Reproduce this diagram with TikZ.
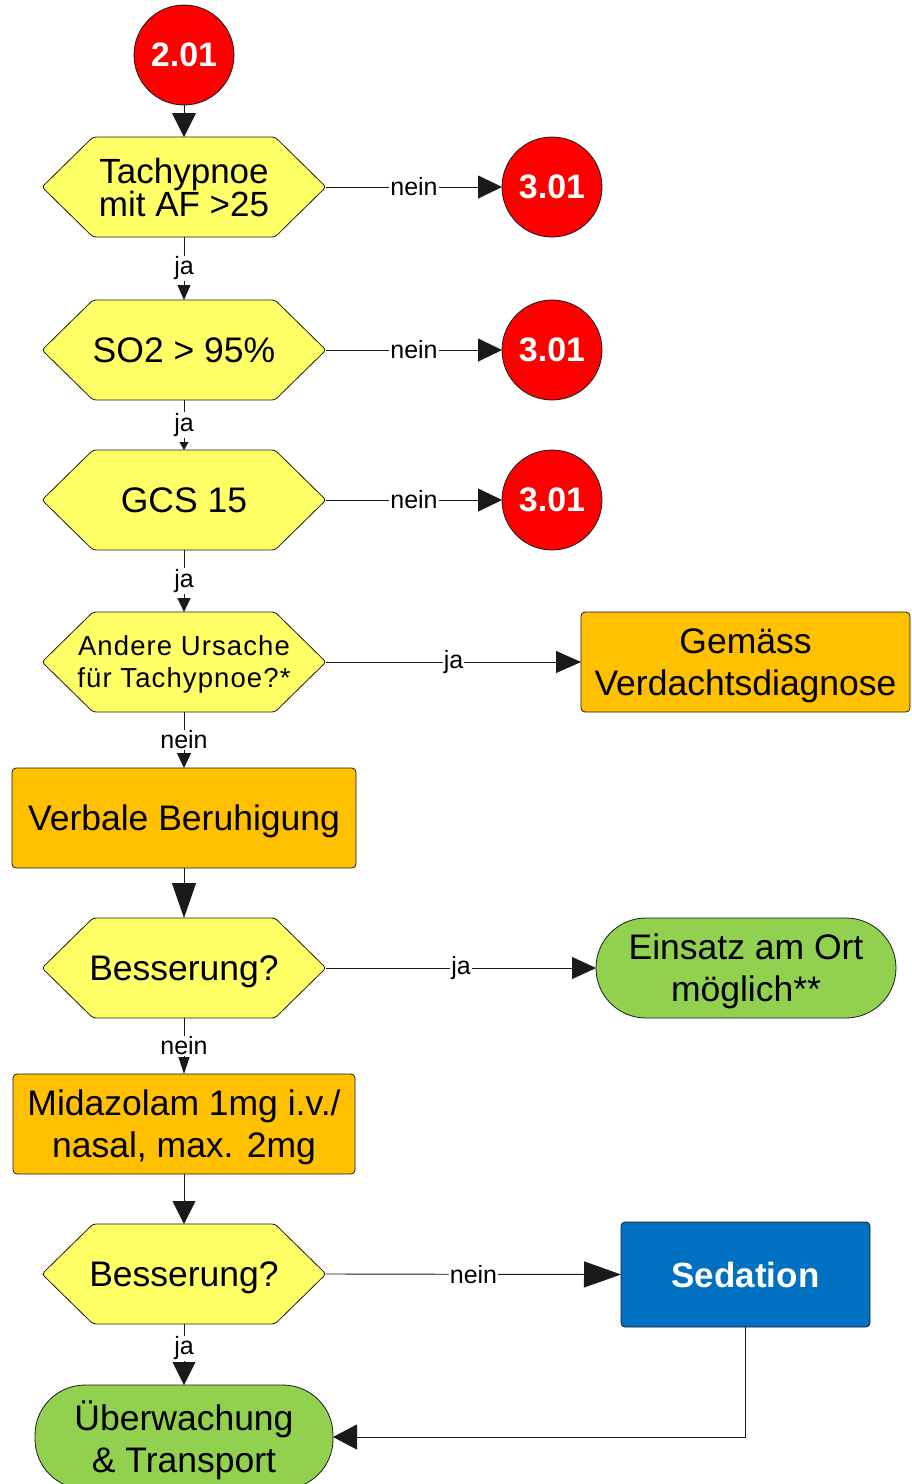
\documentclass[tikz,border=0pt]{standalone}
\usepackage{fontspec}
\setmainfont{Liberation Sans}
\usetikzlibrary{arrows.meta}

\definecolor{hexyellow}{HTML}{FFFF66}
\definecolor{boxorange}{HTML}{FFC000}
\definecolor{endgreen}{HTML}{92D050}
\definecolor{sedblue}{HTML}{0070C0}
\definecolor{exitred}{HTML}{FF0000}
\definecolor{edge}{HTML}{1A1A1A}

% Decision shape: a flat hexagon with pointed left and right ends,
% using the rectangle's anchors so that east/west are the tips.
\makeatletter
\newdimen\hexinset \hexinset=51pt
\pgfdeclareshape{hexbox}{
  \inheritsavedanchors[from=rectangle]
  \inheritanchorborder[from=rectangle]
  \inheritanchor[from=rectangle]{center}
  \inheritanchor[from=rectangle]{north}
  \inheritanchor[from=rectangle]{south}
  \inheritanchor[from=rectangle]{east}
  \inheritanchor[from=rectangle]{west}
  \inheritanchor[from=rectangle]{base}
  \inheritanchor[from=rectangle]{mid}
  \backgroundpath{%
    \southwest \edef\hx@l{\the\pgf@x}\edef\hx@b{\the\pgf@y}%
    \northeast \edef\hx@r{\the\pgf@x}\edef\hx@t{\the\pgf@y}%
    \pgf@xa=\hx@l\relax \advance\pgf@xa by \hexinset \edef\hx@li{\the\pgf@xa}%
    \pgf@xa=\hx@r\relax \advance\pgf@xa by -\hexinset \edef\hx@ri{\the\pgf@xa}%
    \pgf@xa=\hx@l\relax \advance\pgf@xa by \hx@r\relax \divide\pgf@xa by 2 \edef\hx@c{\the\pgf@xa}%
    \pgf@ya=\hx@b\relax \advance\pgf@ya by \hx@t\relax \divide\pgf@ya by 2 \edef\hx@m{\the\pgf@ya}%
    \pgfpathmoveto{\pgfqpoint{\hx@c}{\hx@t}}%
    \pgfpathlineto{\pgfqpoint{\hx@ri}{\hx@t}}%
    \pgfpathlineto{\pgfqpoint{\hx@r}{\hx@m}}%
    \pgfpathlineto{\pgfqpoint{\hx@ri}{\hx@b}}%
    \pgfpathlineto{\pgfqpoint{\hx@li}{\hx@b}}%
    \pgfpathlineto{\pgfqpoint{\hx@l}{\hx@m}}%
    \pgfpathlineto{\pgfqpoint{\hx@li}{\hx@t}}%
    \pgfpathclose
  }
}
\makeatother

\tikzset{
  basenode/.style={outer sep=0pt, inner sep=0pt, align=center, text depth=0pt,
    draw=edge, line width=0.8pt, font=\fontsize{35.5}{42}\selectfont},
  numcirc/.style={basenode, circle, minimum size=100pt, fill=exitred,
    text=white, font=\fontsize{34}{40}\selectfont\bfseries},
  hexq/.style={basenode, shape=hexbox, minimum width=284pt,
    minimum height=100pt, fill=hexyellow, rounded corners=3pt},
  actbox/.style={basenode, rectangle, rounded corners=4pt, fill=boxorange,
    minimum height=100pt},
  endbox/.style={basenode, rectangle, rounded corners=50pt, fill=endgreen,
    minimum height=100pt},
  conn/.style={draw=edge, line width=0.9pt},
  arrowsz/.style 2 args={-{Triangle[length=#1,width=#2]}},
  lbl/.style={fill=white, inner sep=1pt, font=\fontsize{25}{25}\selectfont}
}

\begin{document}
\begin{tikzpicture}[x=1pt, y=-1pt]
  \fill[white] (0,0) rectangle (911,1484);
  \useasboundingbox (0,0) rectangle (911,1484);

  % main column
  \node[numcirc] (start) at (184,55) {2.01};
  \node[hexq, font=\fontsize{35}{33}\selectfont] (q1) at (184,187) {Tachypnoe\\mit AF >25};
  \node[hexq] (q2) at (184,350) {SO2 > 95\%};
  \node[hexq] (q3) at (184,500) {GCS 15};
  \node[hexq, font=\fontsize{27.5}{32}\selectfont\addfontfeature{LetterSpace=4}] (q4) at (184,662) {Andere Ursache\\für Tachypnoe?*};
  \node[actbox, minimum width=344pt] (calm) at (184,818) {Verbale Beruhigung};
  \node[hexq] (q5) at (184,968) {Besserung?};
  \node[actbox, minimum width=342pt] (mida) at (184,1124) {Midazolam 1mg i.v./\\nasal, max. 2mg};
  \node[hexq] (q6) at (184,1274) {Besserung?};
  \node[endbox, minimum width=298pt, minimum height=104pt] (trans) at (184,1437) {Überwachung\\\& Transport};

  % right column
  \node[numcirc] (exitA) at (552,187) {3.01};
  \node[numcirc] (exitB) at (552,350) {3.01};
  \node[numcirc] (exitC) at (552,500) {3.01};
  \node[actbox, minimum width=329pt] (diag) at (745.5,662) {Gemäss\\Verdachtsdiagnose};
  \node[endbox, minimum width=300pt] (site) at (746,968) {Einsatz am Ort\\möglich**};
  \node[basenode, rectangle, rounded corners=4pt, fill=sedblue, text=white,
        minimum width=249pt, minimum height=105pt,
        font=\fontsize{35}{40}\selectfont\bfseries] (sed) at (745.5,1274.5) {Sedation};

  % vertical connectors
  \draw[conn, arrowsz={24pt}{24pt}] (start.south) -- (q1.north);
  \draw[conn, arrowsz={15pt}{13pt}] (q1.south) -- node[lbl] {ja} (q2.north);
  \draw[conn, arrowsz={8pt}{9pt}] (q2.south) -- node[lbl] {ja} (q3.north);
  \draw[conn, arrowsz={14pt}{13pt}] (q3.south) -- node[lbl] {ja} (q4.north);
  \draw[conn, arrowsz={15pt}{14pt}] (q4.south) -- node[lbl] {nein} (calm.north);
  \draw[conn, arrowsz={35pt}{24pt}] (calm.south) -- (q5.north);
  \draw[conn, arrowsz={17pt}{11pt}] (q5.south) -- node[lbl] {nein} (mida.north);
  \draw[conn, arrowsz={23pt}{23pt}] (mida.south) -- (q6.north);
  \draw[conn, arrowsz={23pt}{23pt}] (q6.south) -- node[lbl, pos=0.4] {ja} (trans.north);

  % horizontal connectors
  \draw[conn, arrowsz={24pt}{23pt}] (q1.east) -- node[lbl] {nein} (exitA.west);
  \draw[conn, arrowsz={24pt}{23pt}] (q2.east) -- node[lbl] {nein} (exitB.west);
  \draw[conn, arrowsz={24pt}{23pt}] (q3.east) -- node[lbl] {nein} (exitC.west);
  \draw[conn, arrowsz={25pt}{22pt}] (q4.east) -- node[lbl] {ja} (diag.west);
  \draw[conn, arrowsz={24pt}{22pt}] (q5.east) -- node[lbl] {ja} (site.west);
  \draw[conn, arrowsz={37pt}{26pt}] (q6.east) -- node[lbl] {nein} (sed.west);

  % return path from sedation
  \draw[conn, arrowsz={24pt}{25pt}] (sed.south) |- (trans.east);
\end{tikzpicture}
\end{document}
